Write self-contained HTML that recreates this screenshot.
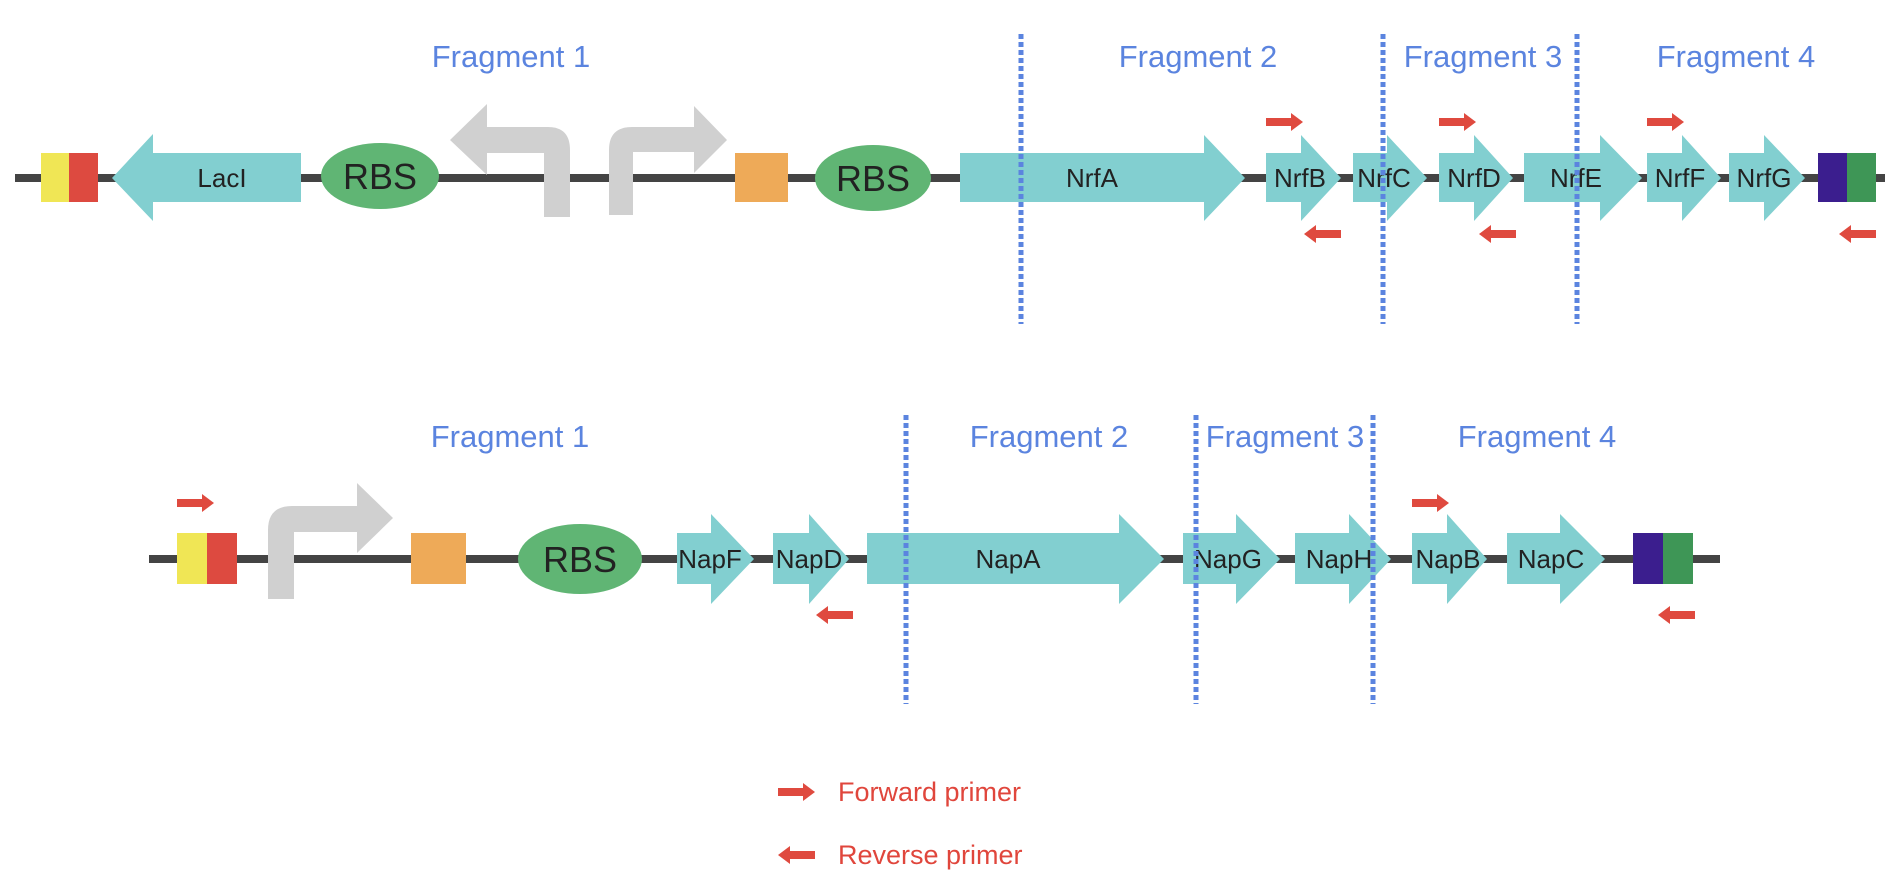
<!DOCTYPE html>
<html><head><meta charset="utf-8"><style>
html,body{margin:0;padding:0;background:#fff;}
svg{display:block;}
.frag{font-family:"Liberation Sans",sans-serif;font-size:31px;fill:#5b84df;text-anchor:middle;}
.g{font-family:"Liberation Sans",sans-serif;font-size:26px;fill:#222;text-anchor:middle;}
.rbs{font-family:"Liberation Sans",sans-serif;font-size:36px;fill:#222;text-anchor:middle;}
.leg{font-family:"Liberation Sans",sans-serif;font-size:27px;fill:#e0463c;}
</style></head><body>
<svg width="1901" height="894" viewBox="0 0 1901 894" xmlns="http://www.w3.org/2000/svg">
<defs>
<g id="fp"><polygon points="0,-4 25,-4 25,-9 37,0 25,9 25,4 0,4" fill="#df4a3f"/></g>
<g id="rp"><polygon points="37,-4 12,-4 12,-9 0,0 12,9 12,4 37,4" fill="#df4a3f"/></g>
</defs>
<!-- ROW 1 -->
<rect x="15" y="174" width="1870" height="8" fill="#444"/>
<rect x="41" y="153" width="28" height="49" fill="#f0e655"/>
<rect x="69" y="153" width="29" height="49" fill="#dd4a40"/>
<polygon points="112,178 153,134 153,153 301,153 301,202 153,202 153,221" fill="#82cfd0"/>
<text class="g" x="222" y="187">LacI</text>
<ellipse cx="380" cy="176" rx="59" ry="33" fill="#60b574"/>
<text class="rbs" x="380" y="189">RBS</text>
<path d="M544,217 L544,153 L487,153 L487,175 L450,140 L487,104 L487,127 L548,127 Q570,127 570,150 L570,217 Z" fill="#d0d0d0"/>
<path d="M609,215 L609,150 Q609,127 632,127 L694,127 L694,106 L727,140 L694,173 L694,152 L633,152 L633,215 Z" fill="#d0d0d0"/>
<rect x="735" y="153" width="53" height="49" fill="#eeaa58"/>
<ellipse cx="873" cy="178" rx="58" ry="33" fill="#60b574"/>
<text class="rbs" x="873" y="191">RBS</text>
<polygon points="960,153 1204,153 1204,135 1245,178 1204,221 1204,202 960,202" fill="#82cfd0"/>
<text class="g" x="1092" y="187">NrfA</text>
<polygon points="1266,153 1301,153 1301,135 1341,178 1301,221 1301,202 1266,202" fill="#82cfd0"/>
<text class="g" x="1300" y="187">NrfB</text>
<polygon points="1353,153 1387,153 1387,135 1427,178 1387,221 1387,202 1353,202" fill="#82cfd0"/>
<text class="g" x="1384" y="187">NrfC</text>
<polygon points="1439,153 1474,153 1474,135 1513,178 1474,221 1474,202 1439,202" fill="#82cfd0"/>
<text class="g" x="1474" y="187">NrfD</text>
<polygon points="1524,153 1600,153 1600,135 1642,178 1600,221 1600,202 1524,202" fill="#82cfd0"/>
<text class="g" x="1576" y="187">NrfE</text>
<polygon points="1647,153 1682,153 1682,135 1721,178 1682,221 1682,202 1647,202" fill="#82cfd0"/>
<text class="g" x="1680" y="187">NrfF</text>
<polygon points="1729,153 1764,153 1764,135 1805,178 1764,221 1764,202 1729,202" fill="#82cfd0"/>
<text class="g" x="1764" y="187">NrfG</text>
<rect x="1818" y="153" width="29" height="49" fill="#3b1e8e"/>
<rect x="1847" y="153" width="29" height="49" fill="#3e9656"/>
<g stroke="#5b84df" stroke-width="5" stroke-dasharray="5 3">
<line x1="1021" y1="34" x2="1021" y2="324"/>
<line x1="1383" y1="34" x2="1383" y2="324"/>
<line x1="1577" y1="34" x2="1577" y2="324"/>
</g>
<text class="frag" x="511" y="67">Fragment 1</text>
<text class="frag" x="1198" y="67">Fragment 2</text>
<text class="frag" x="1483" y="67">Fragment 3</text>
<text class="frag" x="1736" y="67">Fragment 4</text>
<use href="#fp" x="1266" y="122"/>
<use href="#fp" x="1439" y="122"/>
<use href="#fp" x="1647" y="122"/>
<use href="#rp" x="1304" y="234"/>
<use href="#rp" x="1479" y="234"/>
<use href="#rp" x="1839" y="234"/>
<!-- ROW 2 -->
<rect x="149" y="555" width="1571" height="8" fill="#444"/>
<rect x="177" y="533" width="30" height="51" fill="#f0e655"/>
<rect x="207" y="533" width="30" height="51" fill="#dd4a40"/>
<use href="#fp" x="177" y="503"/>
<path d="M268,599 L268,530 Q268,506 292,506 L357,506 L357,483 L393,518 L357,553 L357,532 L294,532 L294,599 Z" fill="#d0d0d0"/>
<rect x="411" y="533" width="55" height="51" fill="#eeaa58"/>
<ellipse cx="580" cy="559" rx="62" ry="35" fill="#60b574"/>
<text class="rbs" x="580" y="572">RBS</text>
<polygon points="677,533 711,533 711,514 754,559 711,604 711,584 677,584" fill="#82cfd0"/>
<text class="g" x="710" y="568">NapF</text>
<polygon points="773,533 809,533 809,514 849,559 809,604 809,584 773,584" fill="#82cfd0"/>
<text class="g" x="809" y="568">NapD</text>
<use href="#rp" x="816" y="615"/>
<polygon points="867,533 1119,533 1119,514 1164,559 1119,604 1119,584 867,584" fill="#82cfd0"/>
<text class="g" x="1008" y="568">NapA</text>
<polygon points="1183,533 1236,533 1236,514 1280,559 1236,604 1236,584 1183,584" fill="#82cfd0"/>
<text class="g" x="1228" y="568">NapG</text>
<polygon points="1295,533 1349,533 1349,514 1391,559 1349,604 1349,584 1295,584" fill="#82cfd0"/>
<text class="g" x="1339" y="568">NapH</text>
<polygon points="1412,533 1447,533 1447,514 1487,559 1447,604 1447,584 1412,584" fill="#82cfd0"/>
<text class="g" x="1448" y="568">NapB</text>
<polygon points="1507,533 1560,533 1560,514 1605,559 1560,604 1560,584 1507,584" fill="#82cfd0"/>
<text class="g" x="1551" y="568">NapC</text>
<rect x="1633" y="533" width="30" height="51" fill="#3b1e8e"/>
<rect x="1663" y="533" width="30" height="51" fill="#3e9656"/>
<use href="#fp" x="1412" y="503"/>
<use href="#rp" x="1658" y="615"/>
<g stroke="#5b84df" stroke-width="5" stroke-dasharray="5 3">
<line x1="906" y1="415" x2="906" y2="704"/>
<line x1="1196" y1="415" x2="1196" y2="704"/>
<line x1="1373" y1="415" x2="1373" y2="704"/>
</g>
<text class="frag" x="510" y="447">Fragment 1</text>
<text class="frag" x="1049" y="447">Fragment 2</text>
<text class="frag" x="1285" y="447">Fragment 3</text>
<text class="frag" x="1537" y="447">Fragment 4</text>
<!-- legend -->
<use href="#fp" x="778" y="792"/>
<text class="leg" x="838" y="801">Forward primer</text>
<use href="#rp" x="778" y="855"/>
<text class="leg" x="838" y="864">Reverse primer</text>
</svg>
</body></html>
